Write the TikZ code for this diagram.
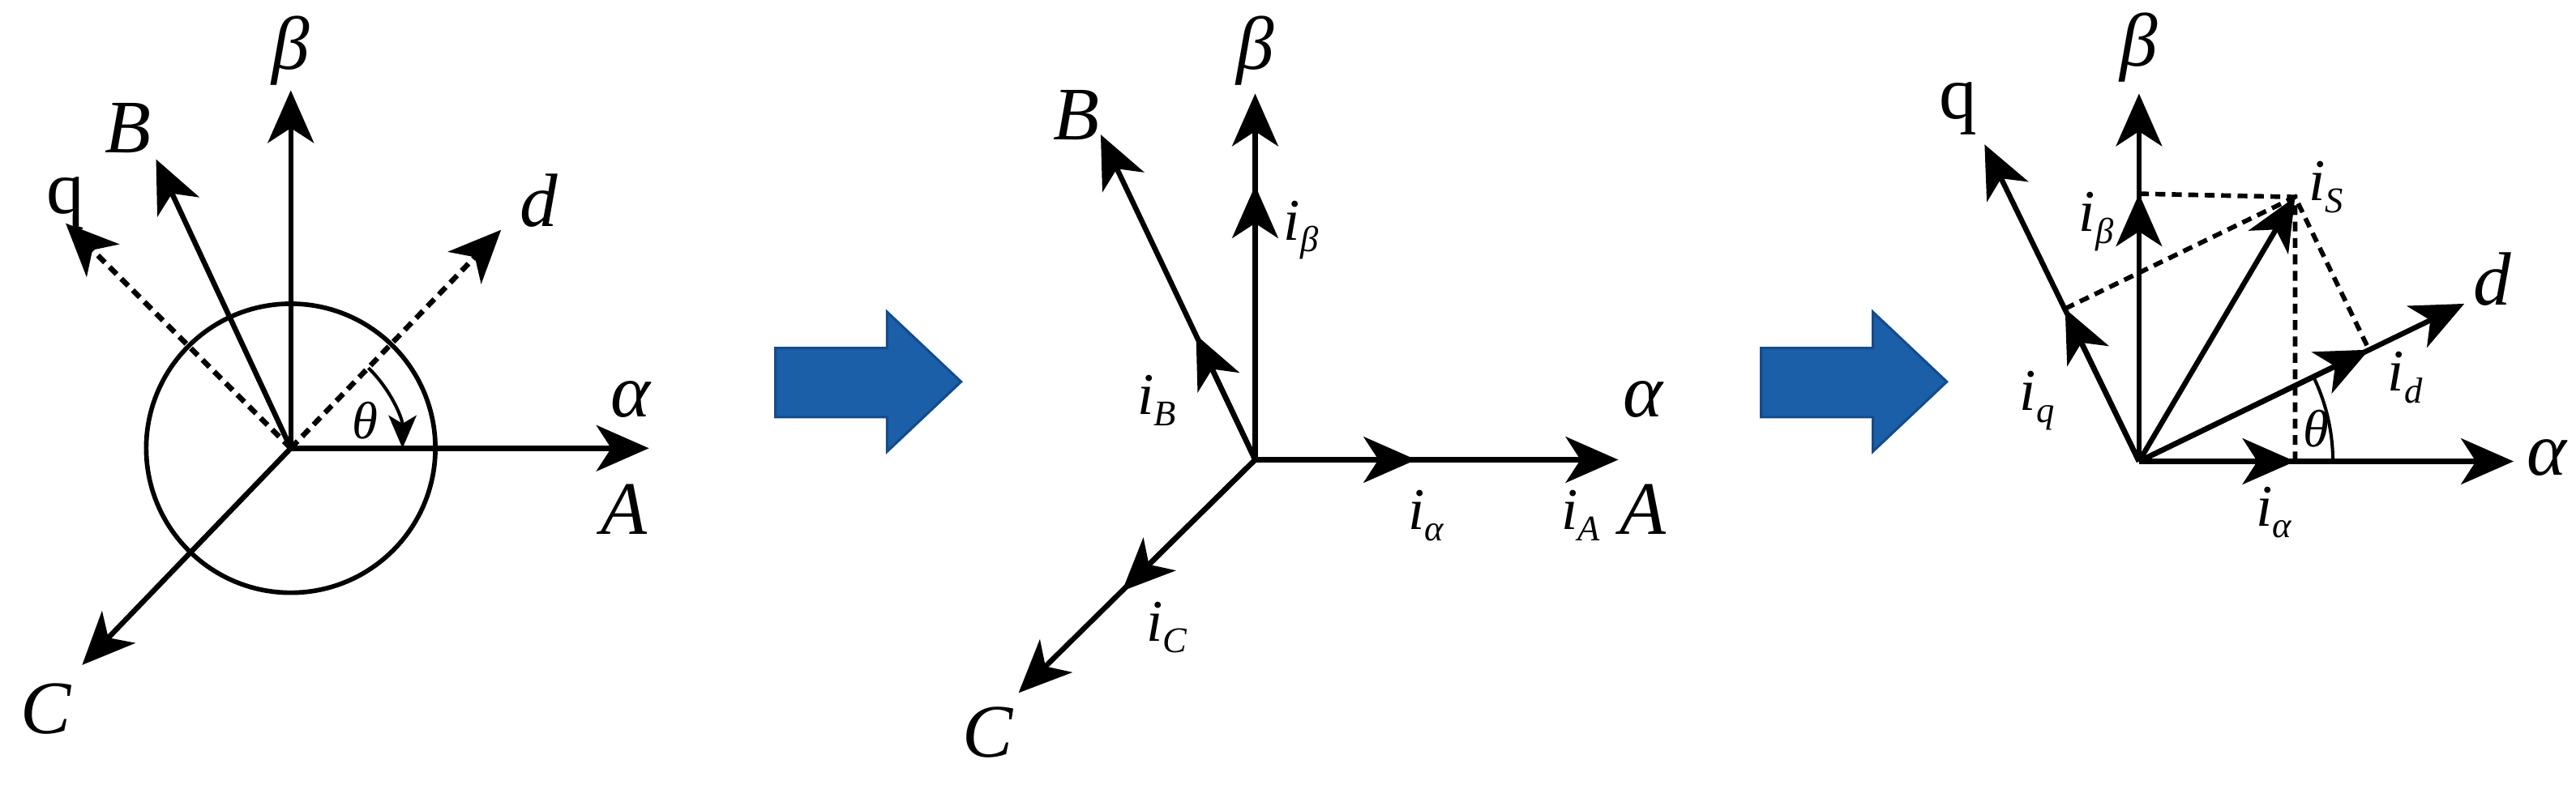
\documentclass[tikz,border=0pt]{standalone}
\usepackage{fontspec}
\setmainfont{Liberation Serif}
\newfontfamily\tms{Liberation Serif}
\usetikzlibrary{arrows.meta,calc}
\newcommand\icur[1]{{\tms\fontsize{36}{36}\selectfont\itshape i}\raisebox{-0.7em}{\tms\fontsize{22}{22}\selectfont\itshape #1}}
\begin{document}
\begin{tikzpicture}[x=1pt,y=1pt,
  ax/.style={line width=3.2pt,-{Stealth[length=32pt,width=28pt,inset=9pt]}},
  dax/.style={ax,dash pattern=on 6pt off 4pt},
  dl/.style={line width=2.8pt,dash pattern=on 6pt off 4pt},
  big/.style={font=\tms\fontsize{46}{46}\selectfont\itshape},
  up/.style={font=\tms\fontsize{46}{46}\selectfont},
  blue arrow/.style={fill={rgb,255:red,26;green,95;blue,168},draw={rgb,255:red,20;green,75;blue,140},line width=1.5pt}]
\useasboundingbox (0,0) rectangle (1568,478);
% ---------- panel 1
\coordinate (O1) at (177,205);
\draw[line width=2.8pt] (O1) circle[radius=88];
\coordinate (b1) at (177,423);
\coordinate (a1) at (395,205);
\coordinate (B1) at (95,381);
\coordinate (q1) at (40,342);
\coordinate (d1) at (305,338);
\coordinate (C1) at (50,73);
\draw[ax] (O1) -- (b1);
\draw[ax] (O1) -- (a1);
\draw[ax] (O1) -- (B1);
\draw[ax] (O1) -- (C1);
\draw[dax] (O1) -- (q1);
\draw[dax] (O1) -- (d1);
\draw[line width=2pt,-{Stealth[length=20pt,width=17pt,inset=5pt]}] ($(O1)+(46:68)$) arc[start angle=46,end angle=0,radius=68];
\node[big] (lb1) at (177,447) {β};
\node[big] (la1) at (384,235) {α};
\node[big] (lA1) at (380,168) {A};
\node[big] (lB1) at (78,400) {B};
\node[up] (lq1) at (40,354) {q};
\node[big] (ld1) at (328,356) {d};
\node[big] (lC1) at (28,46) {C};
\node[font=\tms\fontsize{32}{32}\selectfont\itshape] (lt1) at (222,222) {θ};
% ---------- arrows
\draw[blue arrow] (472,224) -- (540,224) -- (540,203) -- (585,245.5) -- (540,288) -- (540,266) -- (472,266) -- cycle;
\draw[blue arrow] (1072,224) -- (1140,224) -- (1140,203) -- (1185,245.5) -- (1140,288) -- (1140,266) -- (1072,266) -- cycle;
% ---------- panel 2
\coordinate (O2) at (764,198);
\coordinate (b2) at (764,421);
\coordinate (a2) at (985,198);
\coordinate (B2) at (670,396);
\coordinate (C2) at (620,56);
\coordinate (mb2) at (764,365);
\coordinate (ma2) at (862,198);
\coordinate (mB2) at (728,274);
\coordinate (mC2) at (683,118);
\draw[ax] (O2) -- (b2);
\draw[ax] (O2) -- (a2);
\draw[ax] (O2) -- (B2);
\draw[ax] (O2) -- (C2);
\draw[ax] (O2) -- (mb2);
\draw[ax] (O2) -- (ma2);
\draw[ax] (O2) -- (mB2);
\draw[ax] (O2) -- (mC2);
\node[big] (lb2) at (764,447) {β};
\node[big] (la2) at (1000,235) {α};
\node[big] (lA2) at (1000,168) {A};
\node[big] (lB2) at (655,408) {B};
\node[big] (lC2) at (601,32) {C};
\node (ib2) at (792,338) {\icur{β}};
\node (ia2) at (868,164) {\icur{α}};
\node (iA2) at (962,164) {\icur{A}};
\node (iB2) at (704,234) {\icur{B}};
\node (iC2) at (710,96) {\icur{C}};
% ---------- panel 3
\coordinate (O3) at (1302,197);
\coordinate (b3) at (1302,421);
\coordinate (a3) at (1530,197);
\coordinate (d3) at (1500,293);
\coordinate (q3) at (1208,390);
\coordinate (s3) at (1397,358);
\coordinate (pa3) at (1397,197);
\coordinate (pb3) at (1302,360);
\coordinate (pd3) at (1442,265);
\coordinate (pq3) at (1257,290);
\draw[ax] (O3) -- (b3);
\draw[ax] (O3) -- (a3);
\draw[ax] (O3) -- (d3);
\draw[ax] (O3) -- (q3);
\draw[ax] (O3) -- (s3);
\draw[ax] (O3) -- (pa3);
\draw[ax] (O3) -- (pb3);
\draw[ax] (O3) -- (pd3);
\draw[ax] (O3) -- (pq3);
\draw[dl] (pb3) -- (s3) -- (pa3);
\draw[dl] (pq3) -- (s3) -- (pd3);
\draw[line width=2pt] ($(O3)+(118,0)$) arc[start angle=0,end angle=26,radius=118];
\node[big] (lb3) at (1302,449) {β};
\node[big] (la3) at (1550,199) {α};
\node[big] (ld3) at (1517,308) {d};
\node[up] (lq3) at (1192,412) {q};
\node (is3) at (1416,364) {\icur{S}};
\node (ia3) at (1384,166) {\icur{α}};
\node (ib3) at (1276,343) {\icur{β}};
\node (id3) at (1464,248) {\icur{d}};
\node (iq3) at (1240,234) {\icur{q}};
\node[font=\tms\fontsize{32}{32}\selectfont\itshape] (lt3) at (1410,217) {θ};
\end{tikzpicture}
\end{document}
